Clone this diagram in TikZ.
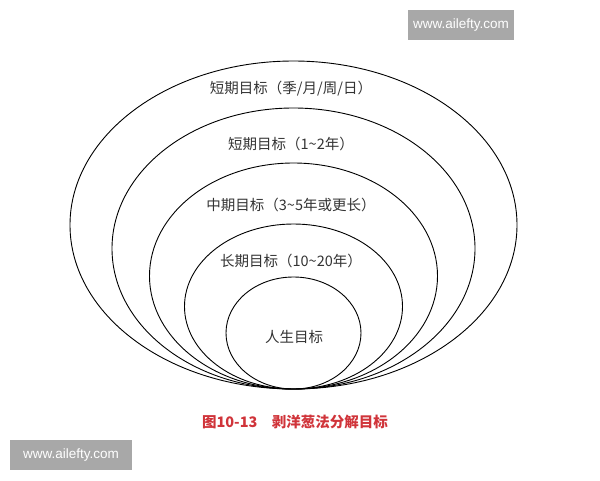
\documentclass[tikz,border=0pt]{standalone}
\usepackage{fontspec}
\setsansfont{Liberation Sans}
\newfontfamily\cjk{Noto Sans CJK SC}
\usepackage{tikz}
\usetikzlibrary{positioning, calc}

\definecolor{capred}{HTML}{D0343A}
\definecolor{markgray}{HTML}{A8A8A8}

\begin{document}
\begin{tikzpicture}[x=1pt, y=-1pt,
    ring/.style={draw=black, line width=0.9pt},
    ringlabel/.style={font=\cjk\fontsize{14.5}{14.5}\selectfont, text=black!80, inner sep=0pt},
    watermark/.style={fill=markgray, text=white, font=\sffamily\fontsize{13.5}{13.5}\selectfont,
        minimum width=106, minimum height=30, inner sep=0pt}]
\useasboundingbox (0,0) rectangle (600,480);

% Nested ellipses, all touching at the bottom point
\coordinate (base) at (293.5,389);
\foreach \w/\h in {223.5/164, 181.5/140.5, 144/113, 109/82.5, 67.5/56} {
    \draw[ring] ($(base)+(0,-\h)$) ellipse [x radius=\w, y radius=\h];
}

% Labels, outer to inner
\node[ringlabel] (daily) at (291,89) {短期目标（季/月/周/日）};
\node[ringlabel] (short) at (291,144) {短期目标（1\char"007E 2年）};
\node[ringlabel] (mid) at (291,205) {中期目标（3\char"007E 5年或更长）};
\node[ringlabel] (long) at (291,261) {长期目标（10\char"007E 20年）};
\node[ringlabel] (life) at (294,337) {人生目标};

% Caption
\node[font=\cjk\bfseries\fontsize{14.5}{14.5}\selectfont, text=capred, inner sep=0pt] (caption) at (295,422) {图10-13\quad 剥洋葱法分解目标};

% Watermarks
\node[watermark, minimum width=106] (markTR) at (461,25) {www.ailefty.com};
\node[watermark, minimum width=122] (markBL) at (71,455) {www.ailefty.com};
\end{tikzpicture}
\end{document}
